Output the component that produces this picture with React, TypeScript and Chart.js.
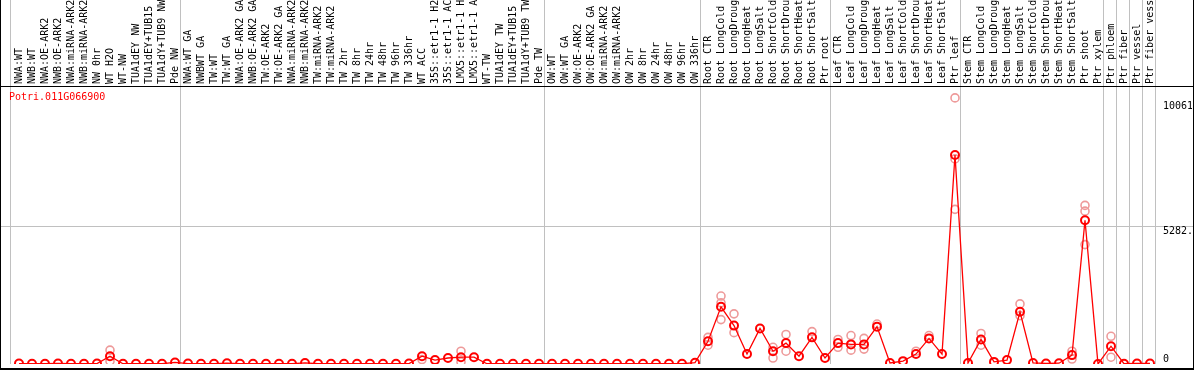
import React, { useEffect, useRef } from "react";
import { Chart, registerables } from "chart.js";

Chart.register(...registerables);

const title = "Potri.011G066900";

const labels: string[] = [
  "NWA:WT", "NWB:WT", "NWA:OE-ARK2", "NWB:OE-ARK2", "NWA:miRNA-ARK2", "NWB:miRNA-ARK2", "NW 0hr", "WT H2O", "WT-NW", "TUA1dEY NW", "TUA1dEY+TUB15 NW", "TUA1dY+TUB9 NW", "Pde NW",
  "NWA:WT GA", "NWBWT GA", "TW:WT", "TW:WT GA", "NWA:OE-ARK2 GA", "NWB:OE-ARK2 GA", "TW:OE-ARK2", "TW:OE-ARK2 GA", "NWA:miRNA-ARK2 GA", "NWB:miRNA-ARK2 GA", "TW:miRNA-ARK2", "TW:miRNA-ARK2 GA", "TW 2hr", "TW 8hr", "TW 24hr", "TW 48hr", "TW 96hr", "TW 336hr", "WT ACC", "35S::etr1-1 H2O", "35S::etr1-1 ACC", "LMX5::etr1-1 H2O", "LMX5::etr1-1 ACC", "WT-TW", "TUA1dEY TW", "TUA1dEY+TUB15 TW", "TUA1dY+TUB9 TW", "Pde TW",
  "OW:WT", "OW:WT GA", "OW:OE-ARK2", "OW:OE-ARK2 GA", "OW:miRNA-ARK2", "OW:miRNA-ARK2 GA", "OW 2hr", "OW 8hr", "OW 24hr", "OW 48hr", "OW 96hr", "OW 336hr",
  "Root CTR", "Root LongCold", "Root LongDrought", "Root LongHeat", "Root LongSalt", "Root ShortCold", "Root ShortDrought", "Root ShortHeat", "Root ShortSalt", "Ptr root",
  "Leaf CTR", "Leaf LongCold", "Leaf LongDrought", "Leaf LongHeat", "Leaf LongSalt", "Leaf ShortCold", "Leaf ShortDrought", "Leaf ShortHeat", "Leaf ShortSalt", "Ptr leaf",
  "Stem CTR", "Stem LongCold", "Stem LongDrought", "Stem LongHeat", "Stem LongSalt", "Stem ShortCold", "Stem ShortDrought", "Stem ShortHeat", "Stem ShortSalt", "Ptr shoot", "Ptr xylem",
  "Ptr phloem", "Ptr fiber", "Ptr vessel", "Ptr fiber vessel",
];

// number of categories in each separated block
const groupSizes = [13, 28, 12, 10, 10, 11, 1, 1, 1, 1];

const means: number[] = [
  15, 10, 10, 20, 10, 10, 15, 300, 10, 10, 10, 10, 60,
  15, 10, 10, 30, 10, 10, 10, 10, 10, 40, 10, 10, 10, 10, 10, 10, 10, 15, 300, 150, 230, 260, 260, 10, 10, 10, 10, 10,
  10, 10, 10, 10, 10, 10, 10, 10, 10, 10, 10, 50,
  870, 2190, 1470, 380, 1360, 490, 800, 300, 1020, 230,
  800, 750, 750, 1430, 40, 110, 380, 980, 380, 8000,
  40, 940, 80, 150, 2000, 40, 20, 30, 340, 5500, 0,
  680, 10, 20, 20,
];

const replicateLabels: string[] = [
  "WT H2O", "WT ACC", "LMX5::etr1-1 H2O", "Root CTR", "Root LongCold", "Root LongDrought", "Root ShortCold", "Root ShortDrought", "Root ShortSalt",
  "Leaf CTR", "Leaf LongCold", "Leaf LongDrought", "Leaf LongHeat", "Leaf ShortDrought", "Leaf ShortHeat", "Ptr leaf",
  "Stem LongCold", "Stem LongSalt", "Stem ShortSalt", "Ptr shoot", "Ptr phloem",
];
const replicateValues: number[][] = [
  [530, 110], [170], [490, 80], [1020, 720], [2600, 2340, 1700], [1920, 1200], [640, 230], [1130, 490], [1240],
  [940, 640], [1090, 530], [980, 570], [1530], [490], [1090], [10185, 7850, 5920],
  [1170, 720], [2300, 1850], [490, 190], [6070, 5850, 4570], [1060, 260],
];

const yTickValues = [0, 5282.5, 10061];
const yTickLabels = ["0", "5282.", "10061"];
const yMax = 10602;

const MONO = "10px 'DejaVu Sans Mono', monospace";

export default function App() {
  const ref = useRef<HTMLCanvasElement | null>(null);

  useEffect(() => {
    const canvas = ref.current;
    if (!canvas) return;

    const repPoints: { x: string; y: number }[] = [];
    replicateLabels.forEach((lab, k) => {
      replicateValues[k].forEach((v) => repPoints.push({ x: lab, y: v }));
    });

    const decor = {
      id: "decor",
      beforeDatasetsDraw(chart: any) {
        const ctx = chart.ctx as CanvasRenderingContext2D;
        const xs = chart.scales.x;
        const ys = chart.scales.y;
        const W = chart.width;
        const H = chart.height;
        const bottom = chart.chartArea.bottom;
        ctx.save();
        ctx.fillStyle = "#ffffff";
        ctx.fillRect(0, 0, W, H);
        // gray vertical separators
        ctx.strokeStyle = "#c0c0c0";
        ctx.lineWidth = 1;
        const step = xs.getPixelForValue(1) - xs.getPixelForValue(0);
        const sepXs: number[] = [Math.round(xs.getPixelForValue(0) - 9) + 0.5];
        let acc = 0;
        groupSizes.forEach((g) => {
          acc += g;
          const last = acc - 1;
          sepXs.push(Math.round(xs.getPixelForValue(last) + step * 0.42) + 0.5);
        });
        sepXs.forEach((sx) => {
          ctx.beginPath();
          ctx.moveTo(sx, 0);
          ctx.lineTo(sx, bottom);
          ctx.stroke();
        });
        // middle gridline
        const gy = Math.round(ys.getPixelForValue(yTickValues[1])) + 0.5;
        ctx.beginPath();
        ctx.moveTo(1, gy);
        ctx.lineTo(W - 1, gy);
        ctx.stroke();
        // category labels (vertical)
        ctx.fillStyle = "#000000";
        ctx.font = MONO;
        ctx.textAlign = "left";
        ctx.textBaseline = "middle";
        labels.forEach((lab, i) => {
          const x = xs.getPixelForValue(i);
          ctx.save();
          ctx.translate(Math.round(x) + 0.5, 84);
          ctx.rotate(-Math.PI / 2);
          ctx.fillText(lab, 0, 0);
          ctx.restore();
        });
        // y labels
        const lx = chart.chartArea.right + 13;
        ctx.save();
        ctx.beginPath();
        ctx.rect(0, 0, W - 2, H);
        ctx.clip();
        yTickValues.forEach((v, k) => {
          const py = ys.getPixelForValue(v);
          if (k === 0) {
            ctx.textBaseline = "bottom";
            ctx.fillText(yTickLabels[k], lx, py);
          } else {
            ctx.textBaseline = "top";
            ctx.fillText(yTickLabels[k], lx, Math.round(py));
          }
        });
        ctx.restore();
        // title
        ctx.fillStyle = "#ff0000";
        ctx.textBaseline = "middle";
        ctx.fillText(title, 9, 97);
        ctx.restore();
      },
      afterDatasetsDraw(chart: any) {
        const ctx = chart.ctx as CanvasRenderingContext2D;
        const W = chart.width;
        const H = chart.height;
        ctx.save();
        ctx.fillStyle = "#000000";
        ctx.fillRect(0, 0, 1, H); // left border
        ctx.fillRect(W - 1, 0, 1, H); // right border
        ctx.fillRect(0, 86, W, 1); // header separator
        ctx.fillRect(0, 368, W, 2); // bottom border
        ctx.restore();
      },
    };

    const chart = new Chart(canvas, {
      type: "line",
      data: {
        labels,
        datasets: [
          {
            data: means,
            borderColor: "#ff0000",
            borderWidth: 1.3,
            pointRadius: 4,
            pointBorderWidth: 2,
            pointBorderColor: "#ff0000",
            pointBackgroundColor: "rgba(0,0,0,0)",
            tension: 0,
            fill: false,
          },
          {
            data: repPoints as any,
            showLine: false,
            pointRadius: 4,
            pointBorderWidth: 1.6,
            pointBorderColor: "#ee9a9a",
            pointBackgroundColor: "rgba(0,0,0,0)",
          },
        ],
      },
      options: {
        animation: false,
        responsive: false,
        events: [],
        layout: { padding: { left: 19, right: 44, top: 87, bottom: 2 } },
        plugins: { legend: { display: false }, tooltip: { enabled: false } },
        scales: {
          x: { type: "category", display: false, offset: false },
          y: { type: "linear", display: false, min: 0, max: yMax },
        },
      },
      plugins: [decor],
    });

    return () => chart.destroy();
  }, []);

  return (
    <div style={{ position: "absolute", left: 0, top: 0, width: 1194, height: 370 }}>
      <canvas ref={ref} width={1194} height={370} style={{ display: "block" }} />
    </div>
  );
}
